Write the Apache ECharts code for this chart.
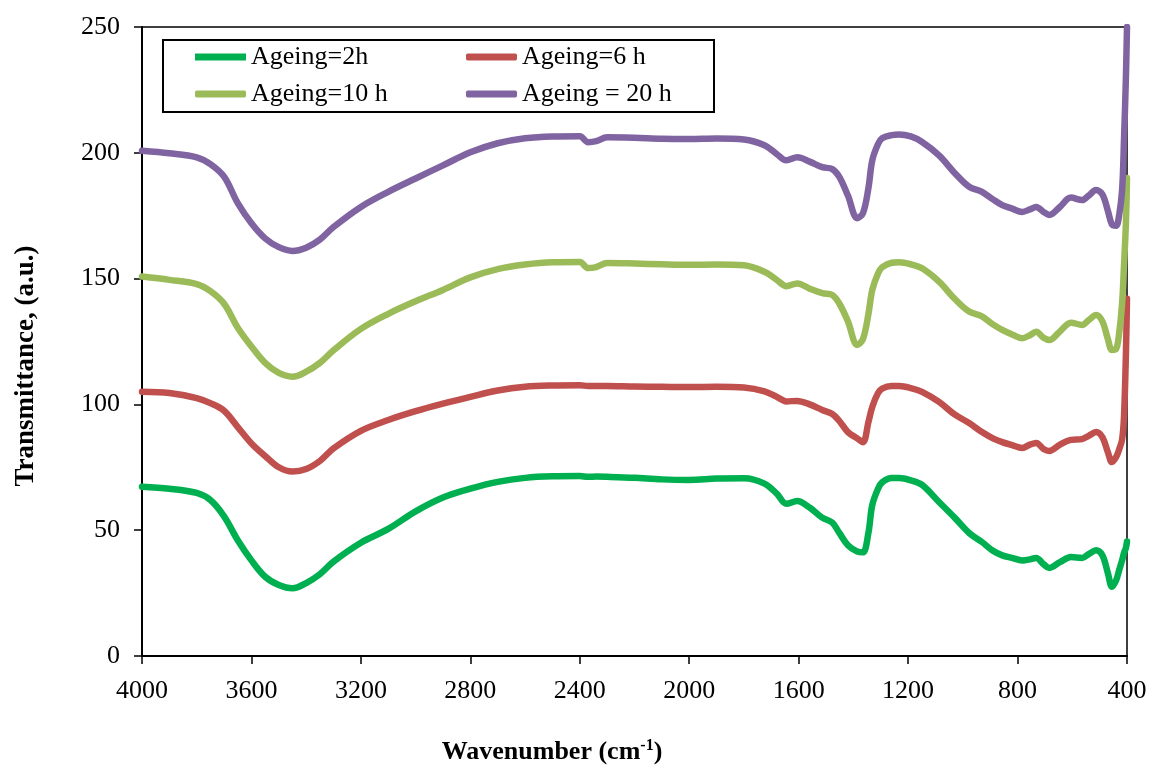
<!DOCTYPE html>
<html>
<head>
<meta charset="utf-8">
<script src="https://cdn.jsdelivr.net/npm/echarts@6/dist/echarts.min.js"></script>
<style>
  html, body { margin: 0; padding: 0; background: #fff; }
  #chart { width: 1152px; height: 767px; }
</style>
</head>
<body>
<div id="chart"></div>
<script>
// FTIR spectra of samples aged for different times (stacked with offsets)
const wavenumbers = [4000, 3900, 3800, 3750, 3700, 3650, 3600, 3550, 3500, 3450, 3400, 3350, 3300, 3200, 3100, 3000, 2900, 2800, 2700, 2600, 2500, 2400, 2370, 2340, 2300, 2200, 2100, 2000, 1900, 1800, 1725, 1680, 1645, 1605, 1560, 1514, 1477, 1452, 1420, 1386, 1365, 1345, 1331, 1310, 1295, 1260, 1233, 1190, 1149, 1087, 1030, 977, 930, 890, 856, 820, 783, 755, 732, 705, 684, 645, 605, 564, 540, 513, 490, 470, 455, 440, 429, 418, 411, 404, 400];

const ageing2h = [67.3, 66.5, 64.8, 62, 55.5, 46, 38, 31.5, 28.2, 26.9, 29, 32.5, 37.5, 45, 50.5, 57.5, 63, 66.5, 69.2, 70.8, 71.4, 71.5, 71.2, 71.3, 71.2, 70.8, 70.2, 70, 70.5, 70.6, 68.5, 64.5, 60.5, 61.6, 59, 55, 53, 49, 44, 41.5, 41.2, 49, 60, 66.5, 69, 70.7, 70.7, 69.8, 68, 61.2, 55, 48.9, 45.3, 41.8, 40, 39, 38, 38.4, 39, 36.5, 35, 37.3, 39.3, 39, 40.5, 42, 40, 33, 27.5, 30, 34, 38, 41, 43, 45.5];

const ageing6h = [105, 104.5, 102.5, 100.5, 97.5, 91, 84.5, 79.5, 75, 73.3, 74.3, 77.5, 82.5, 89.5, 93.8, 97.3, 100.3, 103, 105.5, 107, 107.5, 107.6, 107.3, 107.3, 107.3, 107.1, 107, 106.9, 107, 106.7, 105.2, 103, 101.2, 101.4, 100, 97.8, 96.2, 93.5, 89, 86.5, 85, 93, 99, 104.5, 106.3, 107.3, 107.3, 106.5, 105, 101, 96, 92.6, 89, 86.5, 85, 83.8, 82.7, 84, 84.7, 82.3, 81.5, 84, 85.9, 86.2, 87.5, 89, 87, 81, 77.1, 79, 82, 86, 95, 120, 142];

const ageing10h = [150.8, 149.5, 147.8, 145, 140, 130.5, 123, 116.5, 112.5, 111, 113, 116.5, 121.5, 130, 136, 141, 145.5, 150.5, 153.8, 155.6, 156.5, 156.6, 154.2, 154.6, 156.2, 156, 155.7, 155.5, 155.6, 155.3, 152.7, 149.5, 147, 148.1, 146, 144.2, 143.5, 140.2, 133, 123.6, 126, 136, 145.5, 152, 154.5, 156.3, 156.5, 155.7, 154.1, 148.8, 142, 136.9, 135, 131.8, 129.6, 127.8, 126.3, 127.5, 128.9, 126.5, 125.6, 129, 132.5, 131.6, 133.5, 135.5, 133, 126, 121.6, 122, 128, 140, 155, 172, 190];

const ageing20h = [200.8, 199.8, 198.2, 195.5, 190.5, 180, 172, 166, 162.5, 161, 162.3, 165.5, 170.5, 178.5, 184.5, 189.8, 195, 200.2, 203.8, 205.8, 206.5, 206.6, 204.2, 204.6, 206.2, 206, 205.6, 205.5, 205.7, 205.3, 203, 199.5, 197, 198.2, 196.5, 194.3, 193.5, 190.5, 183, 174, 176, 186, 197, 203.5, 205.8, 207, 207.3, 206.5, 204.3, 199, 192, 186.5, 184.5, 181.5, 179.2, 177.8, 176.5, 177.5, 178.5, 176.5, 175.3, 178.5, 182.2, 181.2, 183, 185.2, 183.5, 177, 171.5, 171, 175, 185, 205, 230, 250];

const seriesNames = ['Ageing=2h', 'Ageing=6 h', 'Ageing=10 h', 'Ageing = 20 h'];
const seriesColors = ['#00B050', '#C0504D', '#9BBB59', '#8064A2'];
const seriesValues = [ageing2h, ageing6h, ageing10h, ageing20h];

const FONT = "'Liberation Serif', 'Times New Roman', serif";

const chart = echarts.init(document.getElementById('chart'));

const series = seriesNames.map((name, i) => ({
  name: name,
  type: 'line',
  data: wavenumbers.map((w, k) => [w, seriesValues[i][k]]),
  showSymbol: false,
  smooth: 0.35,
  clip: true,
  lineStyle: { color: seriesColors[i], width: 6.5, cap: 'round', join: 'round' },
  itemStyle: { color: seriesColors[i] }
}));

const legendBase = {
  orient: 'vertical',
  top: 44,
  itemWidth: 51,
  itemHeight: 7,
  itemGap: 11,
  padding: 0,
  selectedMode: false,
  textStyle: { fontFamily: FONT, fontSize: 26, color: '#000' }
};

chart.setOption({
  animation: false,
  backgroundColor: '#fff',
  grid: {
    left: 142, right: 25, top: 27, bottom: 111,
    show: true, borderColor: '#000', borderWidth: 1.5, backgroundColor: 'transparent'
  },
  legend: [
    Object.assign({}, legendBase, {
      left: 195,
      data: [
        { name: seriesNames[0], icon: 'rect' },
        { name: seriesNames[2], icon: 'roundRect' }
      ]
    }),
    Object.assign({}, legendBase, {
      left: 466,
      data: [
        { name: seriesNames[1], icon: 'roundRect' },
        { name: seriesNames[3], icon: 'roundRect' }
      ]
    })
  ],
  graphic: [
    {
      // legend frame
      type: 'rect',
      left: 162, top: 39,
      shape: { width: 551, height: 72 },
      style: { fill: 'transparent', stroke: '#000', lineWidth: 2 },
      z: 10
    },
    {
      // x-axis title
      type: 'text',
      x: 552, y: 752,
      style: {
        text: '{b|Wavenumber (cm}{s|-1}{b|)}',
        align: 'center',
        verticalAlign: 'middle',
        rich: {
          b: { fontFamily: FONT, fontSize: 26, fontWeight: 'bold', fill: '#000' },
          s: { fontFamily: FONT, fontSize: 16, fontWeight: 'bold', fill: '#000', verticalAlign: 'top', padding: [0, 0, 12, 0] }
        }
      }
    },
    {
      // y-axis title
      type: 'text',
      x: 26, y: 366,
      rotation: Math.PI / 2,
      style: {
        text: 'Transmittance, (a.u.)',
        align: 'center',
        verticalAlign: 'middle',
        fontFamily: FONT, fontSize: 27, fontWeight: 'bold', fill: '#000'
      }
    }
  ],
  xAxis: {
    type: 'value',
    inverse: true,
    min: 400, max: 4000, interval: 400,
    axisLine: { show: true, onZero: false, lineStyle: { color: '#000', width: 2 } },
    axisTick: { show: true, length: 8, lineStyle: { color: '#000', width: 1.5 } },
    axisLabel: { margin: 22, fontFamily: FONT, fontSize: 26, color: '#000', formatter: (v) => String(v) },
    splitLine: { show: false }
  },
  yAxis: {
    type: 'value',
    min: 0, max: 250, interval: 50,
    axisLine: { show: true, lineStyle: { color: '#000', width: 2 } },
    axisTick: { show: true, length: 8, lineStyle: { color: '#000', width: 1.5 } },
    axisLabel: { margin: 22, fontFamily: FONT, fontSize: 26, color: '#000', formatter: (v) => String(v) },
    splitLine: { show: false }
  },
  series: series
});
</script>
</body>
</html>
